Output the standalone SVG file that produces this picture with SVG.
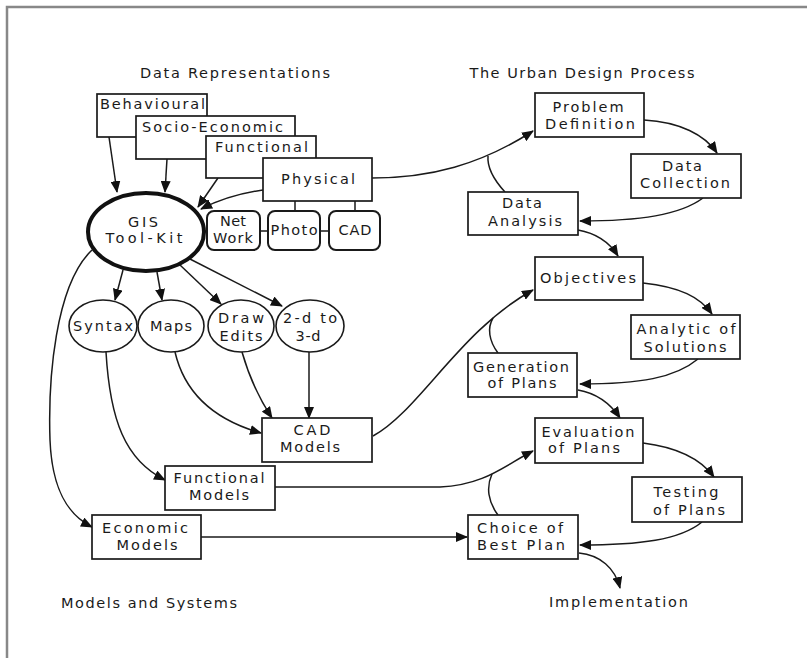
<svg xmlns="http://www.w3.org/2000/svg" width="807" height="658" viewBox="0 0 807 658">
<style>
text{font-family:"DejaVu Sans","Liberation Sans",sans-serif;font-size:14.5px;fill:#1a1a1a;}
.c{text-anchor:middle;}
.box{fill:#fff;stroke:#1a1a1a;stroke-width:1.7;}
.rbox{fill:#fff;stroke:#1a1a1a;stroke-width:2;}
.ell{fill:#fff;stroke:#1a1a1a;stroke-width:1.6;}
.ln{fill:none;stroke:#1a1a1a;stroke-width:1.5;}
.ar{fill:none;stroke:#1a1a1a;stroke-width:1.5;marker-end:url(#ah);}
</style>
<defs>
<marker id="ah" markerWidth="12" markerHeight="10" refX="11" refY="5" orient="auto" markerUnits="userSpaceOnUse">
<path d="M0,0 L12,5 L0,10 Z" fill="#111"/>
</marker>
</defs>
<rect width="807" height="658" fill="#fff"/>
<path d="M7,658 L7,7 L807,7" fill="none" stroke="#888" stroke-width="2.5"/>

<g id="titles">
<text class="c" x="235" y="78" textLength="190" lengthAdjust="spacing">Data Representations</text>
<text class="c" x="582" y="78" textLength="225" lengthAdjust="spacing">The Urban Design Process</text>
<text x="61" y="608" textLength="176" lengthAdjust="spacing">Models and Systems</text>
<text x="549" y="607" textLength="139" lengthAdjust="spacing">Implementation</text>
</g>

<g id="connectors">
<path class="ar" d="M109,137 L117,192"/>
<path class="ar" d="M167,159 L165,192"/>
<path class="ar" d="M218,178 L198,207"/>
<path class="ar" d="M263,190 Q228,195 201,209"/>
<path class="ln" d="M204,231 L207,231 M260,231 L268,231 M320,231 L329,231 M295,201 L295,211 M355,201 L355,211"/>
<path class="ar" d="M123,270 L115,300"/>
<path class="ar" d="M157,272 L162,300"/>
<path class="ar" d="M180,265 L221,304"/>
<path class="ar" d="M188,258 L282,306"/>
<path class="ar" d="M106,352 C110,420 125,460 165,480"/>
<path class="ar" d="M175,352 C185,395 215,420 261,433"/>
<path class="ar" d="M242,352 C250,380 260,400 272,418"/>
<path class="ar" d="M309,352 L309,418"/>
<path class="ar" d="M92,250 C55,285 48,380 50,440 C52,490 68,515 92,527"/>
<path class="ar" d="M372,178 C430,178 480,165 533,131"/>
<path class="ln" d="M505,192 C494,180 487,168 488,156"/>
<path class="ar" d="M644,120 C680,122 705,135 717,153"/>
<path class="ar" d="M703,198 C680,215 640,221 580,221"/>
<path class="ar" d="M578,230 C595,233 608,240 618,256"/>
<path class="ar" d="M373,436 C420,410 460,330 533,290"/>
<path class="ln" d="M498,353 C489,341 487,328 493,318"/>
<path class="ar" d="M643,283 C680,287 700,297 712,314"/>
<path class="ar" d="M698,359 C675,378 640,384 580,384"/>
<path class="ar" d="M578,390 C595,393 610,403 620,418"/>
<path class="ar" d="M275,487 L440,487 C485,485 505,465 533,451"/>
<path class="ln" d="M498,515 C488,502 486,487 492,474"/>
<path class="ar" d="M643,443 C675,447 700,458 714,477"/>
<path class="ar" d="M702,522 C680,540 640,545 580,545"/>
<path class="ar" d="M201,537 L467,537"/>
<path class="ar" d="M579,553 C600,555 615,568 620,588"/>
</g>

<g id="behavioural"><rect class="box" x="97" y="94" width="110" height="43"/><text x="100" y="109" textLength="105" lengthAdjust="spacing">Behavioural</text></g>
<g id="socio-economic"><rect class="box" x="136" y="116" width="159" height="43"/><text x="142" y="132" textLength="141" lengthAdjust="spacing">Socio-Economic</text></g>
<g id="functional"><rect class="box" x="206" y="136" width="110" height="42"/><text x="215" y="152" textLength="93" lengthAdjust="spacing">Functional</text></g>
<g id="physical"><rect class="box" x="263" y="158" width="109" height="43"/><text x="281" y="184" textLength="74" lengthAdjust="spacing">Physical</text></g>

<g id="gis"><ellipse cx="146" cy="232" rx="58" ry="39" fill="#fff" stroke="#111" stroke-width="4"/>
<text class="c" x="143" y="227" textLength="30" lengthAdjust="spacing">GIS</text>
<text class="c" x="144" y="243" textLength="77" lengthAdjust="spacing">Tool-Kit</text></g>

<g id="network"><rect class="rbox" x="207" y="211" width="53" height="39" rx="7"/><text class="c" x="233" y="226" textLength="26" lengthAdjust="spacing">Net</text><text class="c" x="233" y="243" textLength="40" lengthAdjust="spacing">Work</text></g>
<g id="photo"><rect class="rbox" x="268" y="211" width="52" height="39" rx="7"/><text class="c" x="294" y="235" textLength="47" lengthAdjust="spacing">Photo</text></g>
<g id="cad"><rect class="rbox" x="329" y="211" width="51" height="39" rx="7"/><text class="c" x="355" y="235" textLength="33" lengthAdjust="spacing">CAD</text></g>

<g id="syntax"><ellipse class="ell" cx="103" cy="326" rx="34" ry="26"/><text class="c" x="103" y="331" textLength="60" lengthAdjust="spacing">Syntax</text></g>
<g id="maps"><ellipse class="ell" cx="171" cy="326" rx="33" ry="26"/><text class="c" x="171" y="331" textLength="42" lengthAdjust="spacing">Maps</text></g>
<g id="drawedits"><ellipse class="ell" cx="241" cy="326" rx="33" ry="26"/><text class="c" x="241" y="323" textLength="46" lengthAdjust="spacing">Draw</text><text class="c" x="241" y="341" textLength="43" lengthAdjust="spacing">Edits</text></g>
<g id="twod3d"><ellipse class="ell" cx="310" cy="326" rx="34" ry="26"/><text class="c" x="310" y="323" textLength="54" lengthAdjust="spacing">2-d to</text><text class="c" x="308" y="341" textLength="25" lengthAdjust="spacing">3-d</text></g>

<g id="cadmodels"><rect class="box" x="262" y="418" width="110" height="44"/><text class="c" x="312" y="435" textLength="37" lengthAdjust="spacing">CAD</text><text class="c" x="310" y="452" textLength="60" lengthAdjust="spacing">Models</text></g>
<g id="functionalmodels"><rect class="box" x="165" y="466" width="110" height="44"/><text class="c" x="219" y="483" textLength="91" lengthAdjust="spacing">Functional</text><text class="c" x="219" y="500" textLength="60" lengthAdjust="spacing">Models</text></g>
<g id="economicmodels"><rect class="box" x="92" y="515" width="109" height="44"/><text class="c" x="145" y="533" textLength="86" lengthAdjust="spacing">Economic</text><text class="c" x="147" y="550" textLength="61" lengthAdjust="spacing">Models</text></g>

<g id="problem"><rect class="box" x="535" y="93" width="109" height="44"/><text class="c" x="588" y="112" textLength="71" lengthAdjust="spacing">Problem</text><text class="c" x="590" y="129" textLength="90" lengthAdjust="spacing">Definition</text></g>
<g id="datacollection"><rect class="box" x="631" y="154" width="110" height="44"/><text class="c" x="682" y="171" textLength="40" lengthAdjust="spacing">Data</text><text class="c" x="685" y="188" textLength="90" lengthAdjust="spacing">Collection</text></g>
<g id="dataanalysis"><rect class="box" x="468" y="192" width="110" height="43"/><text class="c" x="522" y="208" textLength="40" lengthAdjust="spacing">Data</text><text class="c" x="525" y="226" textLength="74" lengthAdjust="spacing">Analysis</text></g>
<g id="objectives"><rect class="box" x="535" y="257" width="108" height="43"/><text class="c" x="588" y="283" textLength="96" lengthAdjust="spacing">Objectives</text></g>
<g id="analytic"><rect class="box" x="631" y="315" width="109" height="44"/><text class="c" x="686" y="334" textLength="99" lengthAdjust="spacing">Analytic of</text><text class="c" x="685" y="352" textLength="83" lengthAdjust="spacing">Solutions</text></g>
<g id="generation"><rect class="box" x="468" y="353" width="109" height="44"/><text class="c" x="521" y="372" textLength="96" lengthAdjust="spacing">Generation</text><text class="c" x="522" y="388" textLength="69" lengthAdjust="spacing">of Plans</text></g>
<g id="evaluation"><rect class="box" x="535" y="418" width="108" height="45"/><text class="c" x="588" y="437" textLength="93" lengthAdjust="spacing">Evaluation</text><text class="c" x="584" y="453" textLength="72" lengthAdjust="spacing">of Plans</text></g>
<g id="testing"><rect class="box" x="632" y="477" width="110" height="45"/><text class="c" x="686" y="497" textLength="65" lengthAdjust="spacing">Testing</text><text class="c" x="689" y="515" textLength="72" lengthAdjust="spacing">of Plans</text></g>
<g id="choice"><rect class="box" x="468" y="515" width="110" height="44"/><text class="c" x="520" y="533" textLength="86" lengthAdjust="spacing">Choice of</text><text class="c" x="521" y="550" textLength="88" lengthAdjust="spacing">Best Plan</text></g>
</svg>
